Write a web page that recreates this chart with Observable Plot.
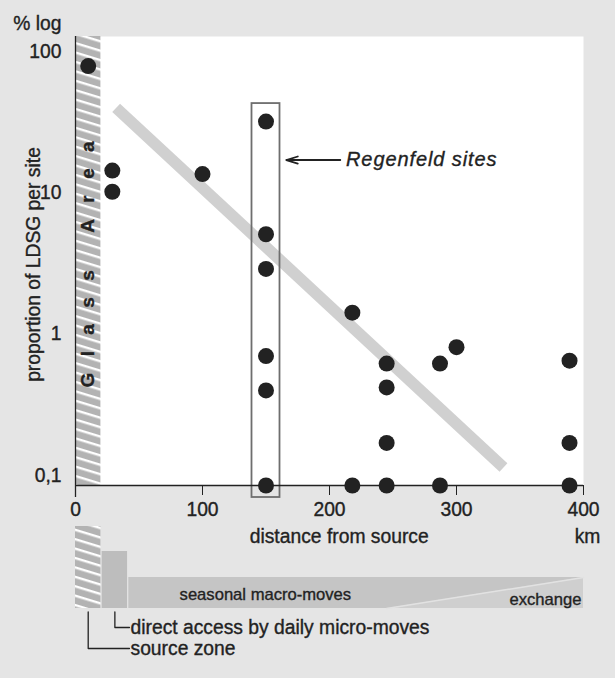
<!DOCTYPE html>
<html><head><meta charset="utf-8">
<script src="https://cdn.jsdelivr.net/npm/d3@7"></script>
<script src="https://cdn.jsdelivr.net/npm/@observablehq/plot@0.6"></script>
<style>
html,body{margin:0;padding:0;background:#e5e5e5;}
#wrap{position:relative;width:615px;height:678px;overflow:hidden;}
#wrap svg{position:absolute;left:0;}
#wrap text{stroke:#222;stroke-width:0.35px;paint-order:stroke;}
</style></head><body><div id="wrap"></div>
<script>
// ---- data ----
const distanceKm    = [10, 29, 29, 100, 150, 150, 150, 150, 150, 150, 218, 218, 245, 245, 245, 245, 287, 287, 300, 389, 389, 389];
const proportionPct = [79, 14.4, 10.2, 13.6, 32, 5.1, 2.9, 0.7, 0.4, 0.085, 1.42, 0.085, 0.62, 0.42, 0.17, 0.085, 0.62, 0.085, 0.81, 0.65, 0.17, 0.085];
const trendKm  = [32, 337];
const trendPct = [40, 0.114];
const regenfeldKm = 150;
const yTicks = [0.1, 1, 10, 100];
const yTickLabels = ["0,1", "1", "10", "100"];
const xTicks = [0, 100, 200, 300, 400];
const zoneNames   = ["source zone", "direct access by daily micro-moves", "seasonal macro-moves"];
const zoneStartKm = [0, 21, 42];
const zoneEndKm   = [20, 41, 400];
const zoneLevel   = [82, 57, 31];
const exchangeStartKm = 245;

const font = "'Liberation Sans', Arial, sans-serif";
const ink = "#222";
const yDomain = [0.085, 128];

const points = distanceKm.map((d, i) => ({km: d, pct: proportionPct[i]}));
const regen = points.filter(p => p.km === regenfeldKm);
const trend = trendKm.map((d, i) => ({km: d, pct: trendPct[i]}));
const zones = zoneNames.map((n, i) => ({name: n, x1: zoneStartKm[i], x2: zoneEndKm[i], level: zoneLevel[i]}));

const hatchDef = id => `<pattern id="${id}" patternUnits="userSpaceOnUse" width="10" height="9" patternTransform="rotate(17)"><rect width="10" height="9" fill="#b3b3b3"/><rect y="0" width="10" height="2.4" fill="#ffffff"/></pattern>`;

const main = Plot.plot({
  width: 615, height: 550,
  marginLeft: 75, marginRight: 32, marginTop: 36, marginBottom: 65,
  style: {background: "transparent", fontFamily: font, color: ink, overflow: "visible"},
  x: {domain: [0, 400]},
  y: {type: "log", domain: yDomain},
  marks: [
    Plot.frame({fill: "white", stroke: null}),
    Plot.rect([zones[0]], {x1: "x1", x2: "x2", y1: () => yDomain[0], y2: () => yDomain[1], fill: "url(#hatchA)"}),
    Plot.text([{km: (zones[0].x1 + zones[0].x2) / 2, t: "Glass Area"}], {x: "km", text: "t", frameAnchor: "bottom", dy: -98, rotate: -90, textAnchor: "start", lineAnchor: "middle", fontWeight: "bold", fontSize: 19, fill: ink}),
    Plot.line(trend, {x: "km", y: "pct", stroke: "#d0d0d0", strokeWidth: 11.5, strokeLinecap: "butt"}),
    Plot.rect([{x: regenfeldKm, lo: d3.min(regen, d => d.pct), hi: d3.max(regen, d => d.pct)}], {x1: "x", x2: "x", y1: "lo", y2: "hi", insetLeft: -14, insetRight: -14, insetTop: -18, insetBottom: -12, fill: "none", stroke: "#6e6e6e", strokeWidth: 1.8}),
    Plot.ruleY([yDomain[0]], {stroke: ink, strokeWidth: 1.3}),
    Plot.ruleX([0], {stroke: ink, strokeWidth: 1.3, insetBottom: -12}),
    Plot.dot(points, {x: "km", y: "pct", r: 8, fill: ink, stroke: null}),
    Plot.arrow([{x1: 208.5, x2: 166, y: 17.1}], {x1: "x1", x2: "x2", y1: "y", y2: "y", stroke: ink, strokeWidth: 1.8, headLength: 10, headAngle: 34}),
    Plot.text([{x: 213, y: 17.1, t: "Regenfeld sites"}], {x: "x", y: "y", text: "t", textAnchor: "start", lineAnchor: "middle", fontSize: 20, fontStyle: "italic", fill: ink}),
    Plot.axisY({ticks: yTicks, tickFormat: d => yTickLabels[yTicks.indexOf(d)], tickSize: 0, tickPadding: 14, fontSize: 19.3, label: null, color: ink}),
    Plot.axisX({ticks: xTicks, tickSize: 10, tickPadding: 7, fontSize: 19.3, label: null, color: ink}),
    Plot.text(["% log"], {frameAnchor: "top-left", dx: -14, dy: -12.5, textAnchor: "end", lineAnchor: "middle", fontSize: 19.3, fill: ink}),
    Plot.text(["proportion of LDSG per site"], {frameAnchor: "left", dx: -42, dy: 3.5, rotate: -90, textAnchor: "middle", lineAnchor: "middle", fontSize: 19.3, fill: ink}),
    Plot.text(["distance from source"], {frameAnchor: "bottom", dx: 9.7, dy: 51.7, textAnchor: "middle", lineAnchor: "middle", fontSize: 19.3, fill: ink}),
    Plot.text(["km"], {frameAnchor: "bottom-right", dx: 4, dy: 51.7, textAnchor: "middle", lineAnchor: "middle", fontSize: 19.3, fill: ink})
  ]
});
d3.select(main).insert("defs", ":first-child").html(hatchDef("hatchA"));
d3.select(main).selectAll("text").filter(function() { return this.textContent === "Glass Area"; }).attr("letter-spacing", 16.4);
d3.select(main).selectAll("text").filter(function() { return this.textContent === "Regenfeld sites"; }).attr("letter-spacing", 0.9);
main.style.top = "0px";

const leaderY = [-40, -19];
const leaders = [0, 1].flatMap(i => {
  const mid = (zones[i].x1 + zones[i].x2) / 2;
  return [{z: i, x: mid, y: -3.5}, {z: i, x: mid, y: leaderY[i]}, {z: i, x: zones[2].x1 + 0.5, y: leaderY[i]}];
});
const exch = [{x: exchangeStartKm, top: 0}, {x: zones[2].x2, top: zones[2].level}];

const schema = Plot.plot({
  width: 615, height: 163,
  marginLeft: 75, marginRight: 32, marginTop: 0, marginBottom: 0,
  style: {background: "transparent", fontFamily: font, color: ink, overflow: "visible"},
  x: {domain: [0, 400], axis: null},
  y: {domain: [-70, 93], axis: null},
  marks: [
    Plot.rect([zones[0]], {x1: "x1", x2: "x2", y1: () => 0, y2: "level", fill: "url(#hatchB)"}),
    Plot.rect([zones[1]], {x1: "x1", x2: "x2", y1: () => 0, y2: "level", fill: "#bdbdbd"}),
    Plot.rect([zones[2]], {x1: "x1", x2: "x2", y1: () => 0, y2: "level", fill: "#c5c5c5"}),
    Plot.areaY(exch, {x: "x", y1: () => 0, y2: "top", fill: "#cfcfcf"}),
    Plot.line(exch, {x: "x", y: "top", stroke: "#e2e2e2", strokeWidth: 1.5}),
    Plot.text([zones[2]], {x: () => 149.5, y: () => 14, text: "name", fontSize: 16.6, fill: ink}),
    Plot.text(["exchange"], {x: () => zones[2].x2, y: () => 9, dx: -2, textAnchor: "end", fontSize: 16.6, fill: ink}),
    Plot.line(leaders, {x: "x", y: "y", z: "z", stroke: ink, strokeWidth: 1.3}),
    Plot.text([zones[1], zones[0]], {x: () => zones[2].x1 + 1.3, y: (d, i) => leaderY[1 - i], text: "name", textAnchor: "start", fontSize: 19.3, fill: ink})
  ]
});
d3.select(schema).insert("defs", ":first-child").html(hatchDef("hatchB"));
schema.style.top = "515px";

const wrap = document.getElementById("wrap");
wrap.appendChild(main);
wrap.appendChild(schema);
</script></body></html>
